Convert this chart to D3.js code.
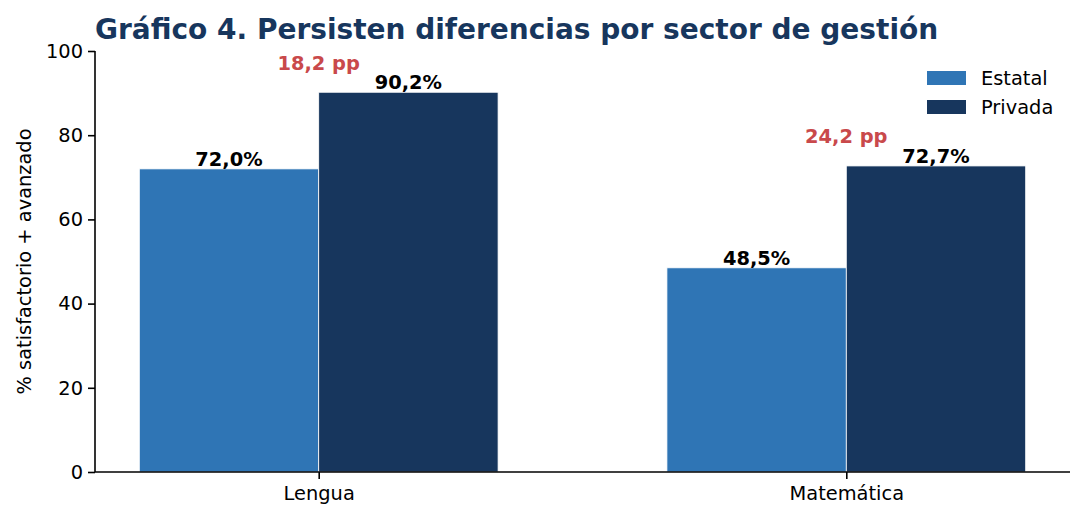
<!DOCTYPE html>
<html>
<head>
<meta charset="utf-8">
<script src="https://cdn.jsdelivr.net/npm/d3@7"></script>
<style>
	body { margin: 0; background: #fff; }
	svg { display: block; font-family: 'DejaVu Sans', sans-serif; }
</style>
</head>
<body>
<div id="chart"></div>
<script>
// chart data
const subjects = ["Lengua", "Matemática"];
const sectors = ["Estatal", "Privada"];
const estatal = [72.0, 48.5];
const privada = [90.2, 72.7];
const gapLabels = ["18,2 pp", "24,2 pp"];
const yTicks = [0, 20, 40, 60, 80, 100];

const width = 1085, height = 522;
const margin = { top: 51, right: 15, bottom: 50, left: 95 };
const colors = { Estatal: "#2f75b5", Privada: "#17365d" };
const fs = 19.4;

const svg = d3.select("#chart").append("svg")
	.attr("width", width)
	.attr("height", height);

// bar centers sit at 0 and 1, bar width 0.34 in data units
const barW = 0.34;
const x = d3.scaleLinear()
	.domain([-0.424, 1.424])
	.range([margin.left, width - margin.right]);

const y = d3.scaleLinear()
	.domain([0, 100])
	.range([height - margin.bottom, margin.top]);

const fmt = v => d3.format(".1f")(v).replace(".", ",") + "%";

const rows = subjects.map((s, i) => ({ subject: s, i: i, Estatal: estatal[i], Privada: privada[i], gap: gapLabels[i] }));

// bars
const groups = svg.append("g").attr("class", "bars")
	.selectAll("g")
	.data(rows)
	.join("g");

sectors.forEach((sec, k) => {
	const x0 = d => k == 0 ? d.i - barW : d.i;

	groups.append("rect")
		.attr("x", d => x(x0(d)))
		.attr("y", d => y(d[sec]))
		.attr("width", d => x(x0(d) + barW) - x(x0(d)))
		.attr("height", d => y(0) - y(d[sec]))
		.attr("fill", colors[sec])
		.attr("stroke", "#fff")
		.attr("stroke-width", 0.8);

	groups.append("text")
		.attr("x", d => x(x0(d) + barW / 2))
		.attr("y", d => y(d[sec] + 0.7))
		.attr("text-anchor", "middle")
		.attr("font-size", fs)
		.attr("font-weight", "bold")
		.attr("fill", "#000")
		.text(d => fmt(d[sec]));
});

// gap annotations
groups.append("text")
	.attr("x", d => x(d.i))
	.attr("y", d => y(Math.max(d.Estatal, d.Privada) + 7))
	.attr("dy", "0.36em")
	.attr("text-anchor", "middle")
	.attr("font-size", fs)
	.attr("font-weight", "bold")
	.attr("fill", "#c9494b")
	.text(d => d.gap);

// axes
const yAxis = svg.append("g")
	.attr("transform", `translate(${margin.left},0)`)
	.call(d3.axisLeft(y).tickValues(yTicks).tickSize(7).tickPadding(5));

const xAxis = svg.append("g")
	.attr("transform", `translate(0,${y(0)})`)
	.call(d3.axisBottom(x).tickValues([0, 1]).tickFormat(i => subjects[i]).tickSize(7).tickPadding(7));

[yAxis, xAxis].forEach(a => {
	a.selectAll("text").attr("font-size", fs).attr("fill", "#000").attr("font-family", "'DejaVu Sans', sans-serif");
	a.selectAll("line").attr("stroke", "#000").attr("stroke-width", 1.6);
	a.select(".domain").attr("stroke", "#000").attr("stroke-width", 1.6);
});
yAxis.select(".domain").attr("d", `M0,${y(0)}V${y(100)}`);
xAxis.select(".domain").attr("d", `M${margin.left},0H${width - margin.right}`);

// y label
svg.append("text")
	.attr("transform", `translate(24,${(y(0) + y(100)) / 2}) rotate(-90)`)
	.attr("dy", "0.36em")
	.attr("text-anchor", "middle")
	.attr("font-size", fs)
	.attr("fill", "#000")
	.text("% satisfactorio + avanzado");

// title
svg.append("text")
	.attr("x", margin.left)
	.attr("y", 39)
	.attr("font-size", 28)
	.attr("font-weight", "bold")
	.attr("fill", "#17365d")
	.text("Gráfico 4. Persisten diferencias por sector de gestión");

// legend
const legend = svg.append("g")
	.attr("transform", "translate(927,78)")
	.selectAll("g")
	.data(sectors)
	.join("g")
	.attr("transform", (d, i) => `translate(0,${i * 29})`);

legend.append("rect")
	.attr("x", 0)
	.attr("y", -7)
	.attr("width", 39)
	.attr("height", 14)
	.attr("fill", d => colors[d]);

legend.append("text")
	.attr("x", 54)
	.attr("dy", "0.36em")
	.attr("font-size", fs)
	.attr("fill", "#000")
	.text(d => d);
</script>
</body>
</html>
